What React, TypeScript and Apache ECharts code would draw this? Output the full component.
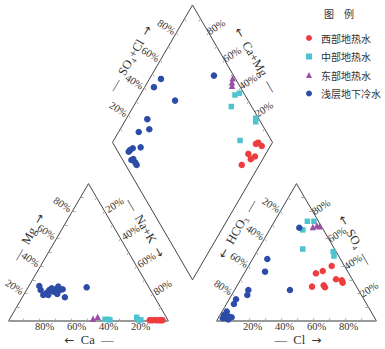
import { useEffect, useRef } from 'react';
import * as echarts from 'echarts';

const H = Math.sqrt(3) / 2;
const GAP = 30;

const tickPercents = [20, 40, 60, 80];
const tickLabels = ['20%', '40%', '60%', '80%'];
const minorTicks = [10, 20, 30, 40, 50, 60, 70, 80, 90];

const groupNames = ['西部地热水', '中部地热水', '东部地热水', '浅层地下冷水'];
const groupColors = ['#ee3d3f', '#4ec4d0', '#9a4fa6', '#2c4ca8'];
const groupSymbols = ['circle', 'rect', 'triangle', 'circle'];

// Cation triangle: [Na+K %, Mg %]   (Ca = 100 - Na+K - Mg)
const westCation = [[88, 0.6], [89.5, 0.5], [91, 0.7], [92.5, 0.5], [94, 0.6], [95, 0.5], [96, 0.6]];
const centralCation = [[59.7, 1.2], [61.8, 1.2], [63, 0.8], [78.8, 2.7], [80.8, 0.8], [82.3, 0.8]];
const eastCation = [[52, 1.7], [54.2, 3.1]];
const shallowCation = [[6.5, 25.5], [8.8, 22.6], [12.3, 18.9], [13.6, 20.6], [14.2, 22.6], [15.1, 23.8], [17.4, 21.3], [18.1, 23.1], [18.6, 25], [20.9, 22.6], [22.3, 23.1], [26.6, 17.3], [15.4, 18.9], [20.6, 19.7], [36.6, 24.5]];

// Anion triangle: [Cl %, SO4 %]   (HCO3 = 100 - Cl - SO4)
const westAnion = [[52, 40], [48.2, 36.4], [44.8, 34.7], [59.5, 30.4], [64.9, 27.9], [63.5, 29.6], [47.2, 25], [54, 26], [55.5, 24.6]];
const centralAnion = [[20.5, 72.6], [24.6, 72.6], [20.8, 66.3], [27.7, 52.4], [47.7, 50.5], [49.8, 47.3]];
const eastAnion = [[26, 68.5], [28, 69.5], [30, 69]];
const shallowAnion = [[17.8, 67.9], [9.2, 45.1], [12.4, 35.9], [34.6, 22.6], [8.6, 22.6], [9.8, 18.9], [4.3, 15.8], [4.7, 12.4], [3, 6.8], [2.5, 4.4], [6.4, 3.1], [8.1, 2.7], [2.9, 2], [5, 2], [6.8, 1.2]];

// Diamond: [SO4+Cl %, Ca+Mg %]
const westDiamond = [[91, 8.8], [92, 5.4], [89.1, 9.8], [80.7, 10.9], [83.9, 5.8], [80.3, 7.5], [72.6, 11]];
const centralDiamond = [[93.8, 40.7], [97.2, 38.6], [87.3, 38.8], [98.3, 19.3], [97, 18], [80.4, 21]];
const eastDiamond = [[98.4, 48.2], [96.5, 47.2], [95.3, 45.9]];
const shallowDiamond = [[53.4, 92.8], [46, 94.2], [54.3, 76.1], [30.2, 86.7], [27.8, 81.8], [20.2, 87.4], [15.8, 80.6], [8.1, 86.3], [10.5, 85.2], [6.7, 86.5], [6.9, 80.9], [6.9, 78.4], [6.9, 76.7], [5.4, 81.8], [87.7, 60.9]];

const cationGroups = [westCation, centralCation, eastCation, shallowCation];
const anionGroups = [westAnion, centralAnion, eastAnion, shallowAnion];
const diamondGroups = [westDiamond, centralDiamond, eastDiamond, shallowDiamond];

// ternary -> cartesian transforms (triangle side = 100 units)
const cat = (p: number[]) => [p[0] + p[1] / 2, p[1] * H];
const an = (p: number[]) => [100 + GAP + p[0] + p[1] / 2, p[1] * H];
const dia = (p: number[]) => [100 + GAP / 2 + (p[0] - p[1]) / 2, GAP * H + (p[0] + p[1]) * H];

const SERIF = '"Liberation Serif", "DejaVu Serif", serif';
const CJK = '"Noto Sans CJK SC", sans-serif';

export default function App() {
  const ref = useRef<HTMLDivElement>(null);
  useEffect(() => {
    if (!ref.current) return;
    const chart = echarts.init(ref.current, undefined, { renderer: 'svg' });

    const outline = (pts: number[][], color: string, width: number) => ({
      type: 'line', data: pts, symbol: 'none', silent: true, animation: false,
      lineStyle: { color, width }, z: 2,
    });

    const TL = 2;
    const tickSet = (fn: (v: number) => number[], dir: number[]) =>
      minorTicks.map((v) => {
        const p = fn(v);
        return { coords: [p, [p[0] + dir[0] * TL, p[1] + dir[1] * TL]] };
      });

    const ticks = [
      ...tickSet((v) => cat([100 - v, 0]), [-0.5, H]),
      ...tickSet((v) => cat([0, v]), [1, 0]),
      ...tickSet((v) => cat([v, 100 - v]), [-0.5, -H]),
      ...tickSet((v) => an([v, 0]), [0.5, H]),
      ...tickSet((v) => an([0, 100 - v]), [0.5, -H]),
      ...tickSet((v) => an([100 - v, v]), [-1, 0]),
      ...tickSet((v) => dia([v, 100]), [0.5, -H]),
      ...tickSet((v) => dia([100, v]), [-0.5, -H]),
    ];

    const pointSeries: any[] = [];
    groupNames.forEach((name, gi) => {
      const common = {
        type: 'scatter', name, symbol: groupSymbols[gi],
        symbolSize: groupSymbols[gi] === 'rect' ? 5.5 : 6.5,
        itemStyle: { color: groupColors[gi], opacity: 1 }, z: 10, animation: false,
      };
      pointSeries.push({ ...common, data: cationGroups[gi].map(cat) });
      pointSeries.push({ ...common, data: anionGroups[gi].map(an) });
      pointSeries.push({ ...common, data: diamondGroups[gi].map(dia) });
    });

    chart.setOption({
      animation: false,
      grid: { left: 8.5, top: 5, width: 368, height: 316 },
      xAxis: { type: 'value', min: 0, max: 230, show: false },
      yAxis: { type: 'value', min: 0, max: 230 * H, show: false },
      legend: {
        orient: 'vertical', left: 301, top: 27, itemWidth: 6, itemHeight: 6, itemGap: 6.5,
        textStyle: { fontSize: 10, fontFamily: CJK, color: '#333', padding: [0, 0, 0, 4], lineHeight: 12 },
        data: groupNames.map((n, i) => ({ name: n, icon: groupSymbols[i] })),
      },
      series: [
        outline([cat([0, 0]), cat([0, 100]), cat([100, 0])], '#444', 1),
        outline([cat([0, 0]), cat([100, 0])], '#999', 2),
        outline([an([0, 0]), an([0, 100]), an([100, 0])], '#444', 1),
        outline([an([0, 0]), an([100, 0])], '#999', 2),
        outline([dia([0, 0]), dia([0, 100]), dia([100, 100]), dia([100, 0]), dia([0, 0])], '#444', 1),
        {
          type: 'lines', coordinateSystem: 'cartesian2d', silent: true, animation: false,
          lineStyle: { color: '#999', width: 0.8, opacity: 1 }, data: ticks, z: 3,
        },
        ...pointSeries,
      ],
    });

    const toPx = (p: number[]) => chart.convertToPixel({ gridIndex: 0 }, p) as number[];

    const centered = {
      align: 'center', verticalAlign: 'middle', textAlign: 'center', textVerticalAlign: 'middle',
    };
    const labelSet = (fn: (v: number) => number[], dx: number, dy: number, deg: number) =>
      tickPercents.map((v, i) => {
        const p = toPx(fn(v));
        return {
          type: 'text', x: p[0] + dx, y: p[1] + dy, rotation: (deg * Math.PI) / 180, silent: true,
          style: { text: tickLabels[i], fontSize: 10.5, fontFamily: SERIF, fill: '#333', ...centered },
        };
      });

    const rich = {
      ar: { fontFamily: '"DejaVu Sans", sans-serif', fontSize: 12, fill: '#333', color: '#333' },
    };
    const title = (text: string, x: number, y: number, deg: number) => ({
      type: 'text', x, y, rotation: (deg * Math.PI) / 180, silent: true,
      style: { text, fontSize: 12.5, fontFamily: SERIF, fill: '#333', rich, ...centered },
    });

    chart.setOption({
      graphic: [
        {
          type: 'text', x: 339, y: 13.5, silent: true,
          style: { text: '图　例', fontSize: 10, fontFamily: CJK, fill: '#333', ...centered },
        },
        title('—  Mg  {ar|→}', 28.5, 237, 60),
        title('—  Na+K  {ar|→}', 145, 228, -60),
        title('{ar|←}  Ca  —', 89, 340, 0),
        title('—  Cl  {ar|→}', 298, 340, 0),
        title('{ar|←}  HCO₃  —', 237.5, 229, 60),
        title('{ar|←}  SO₄  —', 355, 240, -60),
        title('—  SO₄+Cl  {ar|→}', 130.5, 58.5, 60),
        title('{ar|←}  Ca+Mg  —', 255.5, 60, -60),
        ...labelSet((v) => cat([100 - v, 0]), 4, 5.5, 0),
        ...labelSet((v) => cat([0, v]), -10, -6.5, -33),
        ...labelSet((v) => cat([v, 100 - v]), 10, -6, 33),
        ...labelSet((v) => an([v, 0]), 4, 5.5, 0),
        ...labelSet((v) => an([0, 100 - v]), -9.3, -6, -33),
        ...labelSet((v) => an([100 - v, v]), 8.5, -4, 33),
        ...labelSet((v) => dia([v, 100]), -10, -5.5, -33),
        ...labelSet((v) => dia([100, v]), 7.5, -5.5, 33),
      ],
    });
    return () => chart.dispose();
  }, []);
  return (
    <div
      ref={ref}
      style={{ position: 'fixed', left: 0, top: 0, width: 385, height: 349, background: '#fff' }}
    />
  );
}
